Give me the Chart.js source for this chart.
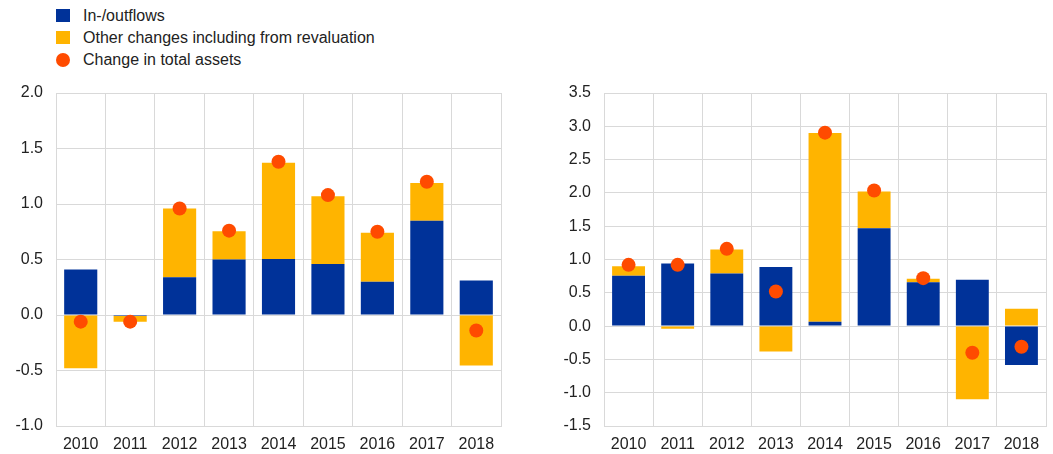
<!DOCTYPE html>
<html>
<head>
<meta charset="utf-8">
<script src="https://cdn.jsdelivr.net/npm/chart.js@4/dist/chart.umd.min.js"></script>
<style>
  html, body { margin: 0; padding: 0; background: #fff; }
  body { width: 1053px; height: 454px; position: relative; overflow: hidden;
         font-family: 'Liberation Sans', Arial, sans-serif; color: #222; }
  .legend { position: absolute; left: 56px; top: 5px; font-size: 16px; }
  .legend .row { height: 22px; line-height: 22px; position: relative; padding-left: 27px; white-space: nowrap; }
  .legend .sw { position: absolute; left: 0; top: 4px; width: 14px; height: 13px; }
  .legend .dot { position: absolute; left: 0; top: 4px; width: 14px; height: 14px; border-radius: 50%; }
  .box { position: absolute; top: 80px; height: 374px; }
  #left { left: 0; width: 520px; }
  #right { left: 548px; width: 505px; }
</style>
</head>
<body>

<div class="legend">
  <div class="row"><span class="sw" style="background:#003299"></span>In-/outflows</div>
  <div class="row"><span class="sw" style="background:#ffb400"></span>Other changes including from revaluation</div>
  <div class="row"><span class="dot" style="background:#ff4b00"></span>Change in total assets</div>
</div>

<div class="box" id="left"><canvas id="chartLeft"></canvas></div>
<div class="box" id="right"><canvas id="chartRight"></canvas></div>

<script>
/* ── data ── */
const years = ['2010', '2011', '2012', '2013', '2014', '2015', '2016', '2017', '2018'];

// left panel
const leftFlows   = [0.41, -0.01, 0.34, 0.50, 0.505, 0.46, 0.30, 0.85, 0.31];
const leftOther   = [-0.48, -0.05, 0.62, 0.255, 0.867, 0.61, 0.44, 0.34, -0.455];
const leftTotal   = [-0.06, -0.06, 0.96, 0.76, 1.38, 1.08, 0.75, 1.20, -0.14];

// right panel
const rightFlows  = [0.755, 0.94, 0.79, 0.886, 0.065, 1.47, 0.66, 0.695, -0.585];
const rightOther  = [0.145, -0.04, 0.36, -0.383, 2.835, 0.55, 0.05, -1.10, 0.26];
const rightTotal  = [0.92, 0.92, 1.16, 0.52, 2.905, 2.035, 0.72, -0.40, -0.31];

const COLORS = {
  blue:   '#003299',
  yellow: '#ffb400',
  red:    '#ff4b00',
  grid:   '#d9d9d9',
  text:   '#222222',
};

Chart.defaults.font.family = "'Liberation Sans', Arial, sans-serif";
Chart.defaults.font.size = 16;
Chart.defaults.color = COLORS.text;

function buildChart(id, flows, other, total, yMin, yMax, padRight) {
  const ctx = document.getElementById(id);
  return new Chart(ctx, {
    type: 'bar',
    data: {
      labels: years,
      datasets: [
        { type: 'line', label: 'Change in total assets', data: total, stack: 'dots',
          showLine: false, pointRadius: 7, pointHoverRadius: 7, pointBorderWidth: 0,
          pointBackgroundColor: COLORS.red, borderColor: COLORS.red, order: 0 },
        { label: 'In-/outflows', data: flows, backgroundColor: COLORS.blue,
          stack: 'bars', order: 1, barPercentage: 0.67, categoryPercentage: 1 },
        { label: 'Other changes including from revaluation', data: other, backgroundColor: COLORS.yellow,
          stack: 'bars', order: 1, barPercentage: 0.67, categoryPercentage: 1 },
      ]
    },
    options: {
      responsive: true, maintainAspectRatio: false,
      animation: false,
      layout: { padding: { top: 13, right: padRight, bottom: 0, left: 0 } },
      plugins: { legend: { display: false }, tooltip: { enabled: false } },
      scales: {
        x: {
          stacked: true,
          grid: { color: COLORS.grid, offset: true, drawTicks: false },
          border: { color: COLORS.grid },
          ticks: { padding: 9, maxRotation: 0, autoSkip: false, font: { size: 16 } },
          afterFit(scale) { scale.height = 28; scale.paddingLeft = 0; scale.paddingRight = 0; },
        },
        y: {
          stacked: true,
          min: yMin, max: yMax,
          grid: { color: COLORS.grid, drawTicks: false },
          border: { color: COLORS.grid },
          ticks: { stepSize: 0.5, padding: 13, font: { size: 16 }, callback: (v) => v.toFixed(1) },
          // fixed axis width, no extra top/bottom room for the end labels
          afterFit(scale) { scale.width = 56; scale.paddingTop = 0; scale.paddingBottom = 0; },
        },
      },
    }
  });
}

buildChart('chartLeft', leftFlows, leftOther, leftTotal, -1.0, 2.0, 19);
buildChart('chartRight', rightFlows, rightOther, rightTotal, -1.5, 3.5, 4);
</script>
</body>
</html>
